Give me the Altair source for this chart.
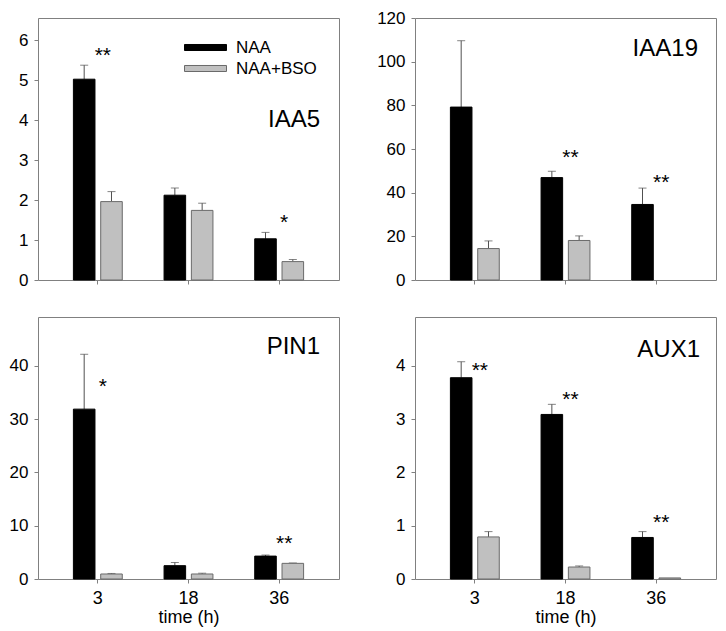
import altair as alt
import pandas as pd

times = ["3", "18", "36"]
series = ["NAA", "NAA+BSO"]
genes = ["IAA5", "IAA19", "PIN1", "AUX1"]

# mean values and (upper) standard errors
iaa5_naa = [5.02, 2.12, 1.03]
iaa5_naa_err = [0.35, 0.18, 0.16]
iaa5_bso = [1.96, 1.74, 0.46]
iaa5_bso_err = [0.25, 0.18, 0.05]

iaa19_naa = [79.2, 46.9, 34.6]
iaa19_naa_err = [30.4, 2.9, 7.5]
iaa19_bso = [14.4, 18.1, None]
iaa19_bso_err = [3.5, 2.1, None]

pin1_naa = [31.9, 2.5, 4.3]
pin1_naa_err = [10.3, 0.6, 0.2]
pin1_bso = [0.94, 0.94, 2.94]
pin1_bso_err = [0.1, 0.15, 0.06]

aux1_naa = [3.78, 3.09, 0.78]
aux1_naa_err = [0.30, 0.19, 0.11]
aux1_bso = [0.79, 0.225, 0.02]
aux1_bso_err = [0.10, 0.02, None]

y_max = {"IAA5": 6.55, "IAA19": 120, "PIN1": 49.2, "AUX1": 4.92}
y_ticks = {
    "IAA5": [0, 1, 2, 3, 4, 5, 6],
    "IAA19": [0, 20, 40, 60, 80, 100, 120],
    "PIN1": [0, 10, 20, 30, 40],
    "AUX1": [0, 1, 2, 3, 4],
}

# significance marks: gene, time, text, height
star_gene = ["IAA5", "IAA5", "IAA19", "IAA19", "PIN1", "PIN1", "AUX1", "AUX1", "AUX1"]
star_time = ["3", "36", "18", "36", "3", "36", "3", "18", "36"]
star_text = ["**", "*", "**", "**", "*", "**", "**", "**", "**"]
star_y = [5.72, 1.55, 58.3, 46.9, 37.0, 7.6, 4.0, 3.46, 1.14]

table = {
    "IAA5": (iaa5_naa, iaa5_naa_err, iaa5_bso, iaa5_bso_err),
    "IAA19": (iaa19_naa, iaa19_naa_err, iaa19_bso, iaa19_bso_err),
    "PIN1": (pin1_naa, pin1_naa_err, pin1_bso, pin1_bso_err),
    "AUX1": (aux1_naa, aux1_naa_err, aux1_bso, aux1_bso_err),
}

rows = []
for g in genes:
    n, ne, b, be = table[g]
    for i, t in enumerate(times):
        for s, v, e in (("NAA", n[i], ne[i]), ("NAA+BSO", b[i], be[i])):
            if v is None:
                continue
            rows.append({"gene": g, "time": t, "series": s, "value": v,
                         "upper": v + e if e is not None else None})
df = pd.DataFrame(rows)
stars = pd.DataFrame({"gene": star_gene, "time": star_time, "text": star_text, "y": star_y})

W, H = 301, 262
FONT = "Liberation Sans"

# label placement inside each panel (right edge x, centre y), in pixels of the panel
label_pos = {"IAA5": (282, 102), "IAA19": (283, 31), "PIN1": (282, 30), "AUX1": (285, 33)}

fill_scale = alt.Scale(domain=series, range=["#000000", "#c0c0c0"])
stroke_scale = alt.Scale(domain=series, range=["#000000", "#6a6a6a"])


def panel(gene, top, with_legend):
    d = df[df.gene == gene]
    ax_kw = dict(domain=False, grid=False, tickSize=4, tickColor="#808080",
                 labelAngle=0, labelFontSize=18, labelPadding=6, labelColor="#000000")
    if top:
        ax_kw.update(labels=False)
        xaxis = alt.Axis(**ax_kw)
        x = alt.X("time:N", sort=times, title="", axis=xaxis,
                  scale=alt.Scale(paddingInner=0, paddingOuter=0.16))
    else:
        ax_kw.update(titleFontSize=18, titleFontWeight="normal", titlePadding=1,
                     titleColor="#000000")
        xaxis = alt.Axis(**ax_kw)
        x = alt.X("time:N", sort=times, title="time (h)", axis=xaxis,
                  scale=alt.Scale(paddingInner=0, paddingOuter=0.16))
    xo = alt.XOffset("series:N", sort=series,
                     scale=alt.Scale(paddingInner=0.21, paddingOuter=0.765))
    yaxis = alt.Axis(values=y_ticks[gene], domain=False, grid=False, tickSize=4,
                     tickColor="#808080", labelFontSize=17, labelPadding=6,
                     labelColor="#000000")
    yscale = alt.Scale(domain=[0, y_max[gene]], nice=False, zero=True)
    y = alt.Y("value:Q", title="", axis=yaxis, scale=yscale)

    if with_legend:
        # wide flat swatch: path drawn 3x wider than the nominal symbol box
        leg = alt.Legend(title=None, orient="none", legendX=159, legendY=21,
                         symbolType="M-3,-0.43H3V0.43H-3Z", symbolSize=196,
                         symbolStrokeWidth=1, labelFontSize=17, labelOffset=22,
                         labelColor="#000000", rowPadding=3, padding=0)
        color = alt.Color("series:N", scale=fill_scale, legend=leg)
        stroke = alt.Stroke("series:N", scale=stroke_scale, legend=leg)
    else:
        color = alt.Color("series:N", scale=fill_scale, legend=None)
        stroke = alt.Stroke("series:N", scale=stroke_scale, legend=None)

    base = alt.Chart(d)
    bars = base.mark_bar(strokeWidth=1).encode(x=x, xOffset=xo, y=y, color=color, stroke=stroke)
    eb = d[d.upper.notna()]
    err = alt.Chart(eb).mark_rule(color="#505050", strokeWidth=1).encode(
        x=x, xOffset=xo, y=alt.Y("value:Q", scale=yscale, axis=yaxis, title=""), y2="upper:Q")
    cap = alt.Chart(eb).mark_tick(color="#505050", size=8, thickness=1, orient="horizontal").encode(
        x=x, xOffset=xo, y=alt.Y("upper:Q", scale=yscale, axis=yaxis, title=""))
    st = alt.Chart(stars[stars.gene == gene]).mark_text(
        fontSize=21, font=FONT, dx=5, dy=5, baseline="middle", align="center", color="#000000"
    ).encode(x=x, y=alt.Y("y:Q", scale=yscale, axis=yaxis, title=""), text="text:N")
    lx, ly = label_pos[gene]
    lab = alt.Chart(pd.DataFrame({"g": [gene]})).mark_text(
        fontSize=24, font=FONT, align="right", baseline="middle", color="#000000"
    ).encode(x=alt.value(lx), y=alt.value(ly), text="g:N")
    layer = alt.layer(err, cap, bars, st, lab).properties(width=W, height=H)
    return layer


p1 = panel("IAA5", True, True)
p2 = panel("IAA19", True, False)
p3 = panel("PIN1", False, False)
p4 = panel("AUX1", False, False)

chart = alt.concat(p1, p2, p3, p4, columns=2, spacing={"row": 37, "column": 76},
                   bounds="flush").resolve_legend(color="independent", stroke="independent").configure(
    font=FONT, padding={"left": 0, "top": 0, "right": 0, "bottom": 0}
).configure_view(stroke="#808080", strokeWidth=1).configure_legend(
    labelFont=FONT, labelFontSize=17, labelColor="#000000"
).configure_axis(labelFont=FONT, titleFont=FONT, titleFontSize=18, titleFontWeight="normal")

chart.save("out.html", embed_options={"renderer": "svg", "actions": False})
